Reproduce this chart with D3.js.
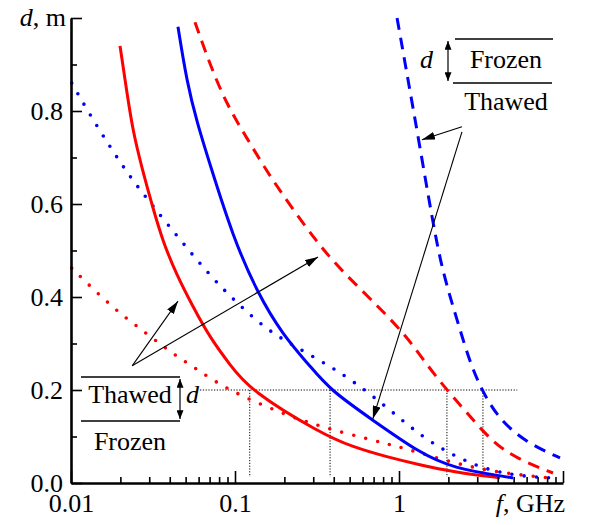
<!DOCTYPE html>
<html>
<head>
<meta charset="utf-8">
<script src="https://cdn.jsdelivr.net/npm/d3@7/dist/d3.min.js"></script>
<style>
  html, body { margin: 0; padding: 0; background: #fff; }
  svg { display: block; }
  text { font-family: "Liberation Serif", "DejaVu Serif", serif; fill: #000; }
</style>
</head>
<body>
<svg id="chart" width="589" height="525"></svg>
<script>
// ---------------- data ----------------
const redSolidF  = [0.0199, 0.0219, 0.0239, 0.0271, 0.0312, 0.0364, 0.0442, 0.0547, 0.0705, 0.0933, 0.123, 0.330, 0.525, 0.845, 1.34, 2.13, 4.13];
const redSolidD  = [0.940, 0.841, 0.755, 0.677, 0.598, 0.518, 0.447, 0.383, 0.312, 0.254, 0.200, 0.1075, 0.077, 0.056, 0.039, 0.024, 0.011];

const blueSolidF = [0.0449, 0.0509, 0.0586, 0.0705, 0.0973, 0.136, 0.196, 0.286, 0.38, 0.693, 1.34, 2.13, 4.55, 4.96];
const blueSolidD = [0.981, 0.862, 0.776, 0.684, 0.529, 0.411, 0.318, 0.252, 0.200, 0.135, 0.0645, 0.032, 0.013, 0.011];

const redDashF   = [0.057, 0.0705, 0.0893, 0.118, 0.157, 0.216, 0.316, 0.436, 0.766, 1.12, 1.48, 1.96, 2.60, 3.74, 5.47, 8.69];
const redDashD   = [0.991, 0.899, 0.813, 0.742, 0.669, 0.598, 0.518, 0.460, 0.376, 0.314, 0.254, 0.200, 0.151, 0.086, 0.049, 0.0215];

const blueDashF  = [0.973, 1.31, 1.61, 1.85, 2.26, 2.71, 3.25, 4.13, 6.03, 9.59];
const blueDashD  = [1.000, 0.744, 0.559, 0.452, 0.351, 0.258, 0.194, 0.135, 0.086, 0.054];

const blueDotF   = [0.0101, 0.0131, 0.0173, 0.0229, 0.0312, 0.0475, 0.0725, 0.103, 0.152, 0.223, 0.344, 0.516, 0.857, 1.38, 2.26, 3.74, 6.29, 8.6];
const blueDotD   = [0.860, 0.791, 0.723, 0.658, 0.598, 0.518, 0.441, 0.387, 0.333, 0.297, 0.260, 0.2215, 0.161, 0.099, 0.054, 0.024, 0.013, 0.011];

const redDotF    = [0.0101, 0.018, 0.0271, 0.0402, 0.0594, 0.0905, 0.188, 0.339, 0.693, 1.13, 2.13, 4.13, 8.34];
const redDotD    = [0.462, 0.376, 0.329, 0.282, 0.243, 0.200, 0.151, 0.120, 0.092, 0.073, 0.043, 0.0215, 0.011];

// frequencies where curves reach d = 0.2 m (thin dotted guides)
const crossF = [0.123, 0.38, 1.96, 3.25];
const crossD = 0.2;

const yMajorTicks = [0, 0.2, 0.4, 0.6, 0.8, 1.0];
const yTickLabels = ["0.0", "0.2", "0.4", "0.6", "0.8", ""];
const yMinorTicks = [0.1, 0.3, 0.5, 0.7, 0.9];
const xMajorTicks = [0.01, 0.1, 1, 10];
const xTickLabels = ["0.01", "0.1", "1", ""];
const xMinorTicks = [2,3,4,5,6,7,8,9].flatMap(m => [0.01*m, 0.1*m, 1*m]);

// ---------------- drawing ----------------
const svg = d3.select("#chart");
const x = d3.scaleLog().domain([0.01, 10]).range([71, 563]);
const y = d3.scaleLinear().domain([0, 1]).range([483, 18]);

const defs = svg.append("defs");
defs.append("marker").attr("id", "ah")
  .attr("viewBox", "0 0 13 8").attr("refX", 13).attr("refY", 4)
  .attr("markerWidth", 13).attr("markerHeight", 8)
  .attr("markerUnits", "userSpaceOnUse").attr("orient", "auto")
  .append("path").attr("d", "M0,0 L13,4 L0,8 Z").attr("fill", "#000");
defs.append("marker").attr("id", "ahs")
  .attr("viewBox", "0 0 10 8").attr("refX", 10).attr("refY", 4)
  .attr("markerWidth", 9).attr("markerHeight", 7)
  .attr("markerUnits", "userSpaceOnUse").attr("orient", "auto-start-reverse")
  .append("path").attr("d", "M0,0 L10,4 L0,8 Z").attr("fill", "#000");

// guides
const guides = svg.append("g").attr("stroke", "#000").attr("stroke-width", 1)
  .attr("stroke-dasharray", "1.2 1.6").attr("fill", "none");
guides.append("line")
  .attr("x1", x(0.0612)).attr("x2", x(5.26))
  .attr("y1", y(crossD)).attr("y2", y(crossD));
guides.selectAll("line.v").data(crossF).join("line").attr("class", "v")
  .attr("x1", d => x(d)).attr("x2", d => x(d))
  .attr("y1", y(crossD)).attr("y2", y(0.013));

// curves
const line = d3.line().x(d => x(d[0])).y(d => y(d[1])).curve(d3.curveBasis);
const zip = (a, b) => a.map((v, i) => [v, b[i]]);
const series = [
  {f: redDotF,   d: redDotD,   c: "#ff0000", dash: "0 12.3", cap: "round", w: 3.6},
  {f: blueDotF,  d: blueDotD,  c: "#0000ff", dash: "0 12.3", cap: "round", w: 3.6},
  {f: redSolidF, d: redSolidD, c: "#ff0000", dash: null, cap: "butt", w: 3},
  {f: blueSolidF,d: blueSolidD,c: "#0000ff", dash: null, cap: "butt", w: 3},
  {f: redDashF,  d: redDashD,  c: "#ff0000", dash: "12 8", cap: "butt", w: 3},
  {f: blueDashF, d: blueDashD, c: "#0000ff", dash: "12 8", cap: "butt", w: 3}
];
svg.append("g").selectAll("path").data(series).join("path")
  .attr("d", s => line(zip(s.f, s.d)))
  .attr("fill", "none").attr("stroke", s => s.c)
  .attr("stroke-width", s => s.w)
  .attr("stroke-linecap", s => s.cap)
  .attr("stroke-dasharray", s => s.dash);

// axes
const fs = 26;
const yAxis = svg.append("g").attr("transform", `translate(${x(0.01)},0)`)
  .call(d3.axisLeft(y).tickValues(yMajorTicks).tickSize(-11).tickSizeOuter(0)
    .tickPadding(8).tickFormat((d, i) => yTickLabels[i]));
svg.append("g").attr("transform", `translate(${x(0.01)},0)`)
  .call(d3.axisLeft(y).tickValues(yMinorTicks).tickSize(-6).tickSizeOuter(0).tickFormat(""))
  .select(".domain").remove();
const xAxis = svg.append("g").attr("transform", `translate(0,${y(0)})`)
  .call(d3.axisBottom(x).tickValues(xMajorTicks).tickSize(-12).tickSizeOuter(0)
    .tickPadding(11).tickFormat((d, i) => xTickLabels[i]));
svg.append("g").attr("transform", `translate(0,${y(0)})`)
  .call(d3.axisBottom(x).tickValues(xMinorTicks).tickSize(-6).tickSizeOuter(0).tickFormat(""))
  .select(".domain").remove();
svg.selectAll(".domain").attr("stroke-width", 2.6);
svg.selectAll(".tick line").attr("stroke-width", 1.6);
svg.selectAll(".tick text").style("font-family", '"Liberation Serif", serif').style("font-size", fs + "px");
yAxis.selectAll(".tick text").attr("dy", "0.33em");

// axis titles
const yt = svg.append("text").attr("x", 66).attr("y", 26).attr("text-anchor", "end").style("font-size", fs + "px");
yt.append("tspan").style("font-style", "italic").text("d");
yt.append("tspan").text(", m");
const xt = svg.append("text").attr("x", 565).attr("y", 512).attr("text-anchor", "end").style("font-size", fs + "px");
xt.append("tspan").style("font-style", "italic").text("f");
xt.append("tspan").text(", GHz");

// annotation: lower-left bracket (Thawed over Frozen)
const ann = svg.append("g").attr("stroke", "#000");
ann.append("line").attr("x1", 81).attr("x2", 180).attr("y1", 377).attr("y2", 377).attr("stroke-width", 1.6);
ann.append("line").attr("x1", 81).attr("x2", 180).attr("y1", 421).attr("y2", 421).attr("stroke-width", 1.6);
ann.append("line").attr("x1", 180).attr("x2", 180).attr("y1", 379).attr("y2", 419).attr("stroke-width", 1.2)
  .attr("marker-start", "url(#ahs)").attr("marker-end", "url(#ahs)");
svg.append("text").attr("x", 130).attr("y", 403).attr("text-anchor", "middle").style("font-size", fs + "px").text("Thawed");
svg.append("text").attr("x", 130).attr("y", 450).attr("text-anchor", "middle").style("font-size", fs + "px").text("Frozen");
svg.append("text").attr("x", 186).attr("y", 403).style("font-size", fs + "px").style("font-style", "italic").text("d");

// annotation: upper-right bracket (Frozen over Thawed)
ann.append("line").attr("x1", 455).attr("x2", 553).attr("y1", 39).attr("y2", 39).attr("stroke-width", 1.6);
ann.append("line").attr("x1", 453).attr("x2", 552).attr("y1", 83).attr("y2", 83).attr("stroke-width", 1.6);
ann.append("line").attr("x1", 448).attr("x2", 448).attr("y1", 41).attr("y2", 81).attr("stroke-width", 1.2)
  .attr("marker-start", "url(#ahs)").attr("marker-end", "url(#ahs)");
svg.append("text").attr("x", 506).attr("y", 68).attr("text-anchor", "middle").style("font-size", fs + "px").text("Frozen");
svg.append("text").attr("x", 506).attr("y", 110).attr("text-anchor", "middle").style("font-size", fs + "px").text("Thawed");
svg.append("text").attr("x", 420).attr("y", 68).style("font-size", fs + "px").style("font-style", "italic").text("d");

// pointer arrows (data coordinates)
const arrows = [
  {f0: 0.0236, d0: 0.252, f1: 0.0449, d1: 0.391},
  {f0: 0.0236, d0: 0.252, f1: 0.321,  d1: 0.486},
  {f0: 2.42,   d0: 0.766, f1: 1.38,   d1: 0.738},
  {f0: 2.42,   d0: 0.755, f1: 0.693,  d1: 0.138}
];
svg.append("g").selectAll("line").data(arrows).join("line")
  .attr("x1", a => x(a.f0)).attr("y1", a => y(a.d0))
  .attr("x2", a => x(a.f1)).attr("y2", a => y(a.d1))
  .attr("stroke", "#000").attr("stroke-width", 1.1)
  .attr("marker-end", "url(#ah)");
</script>
</body>
</html>
